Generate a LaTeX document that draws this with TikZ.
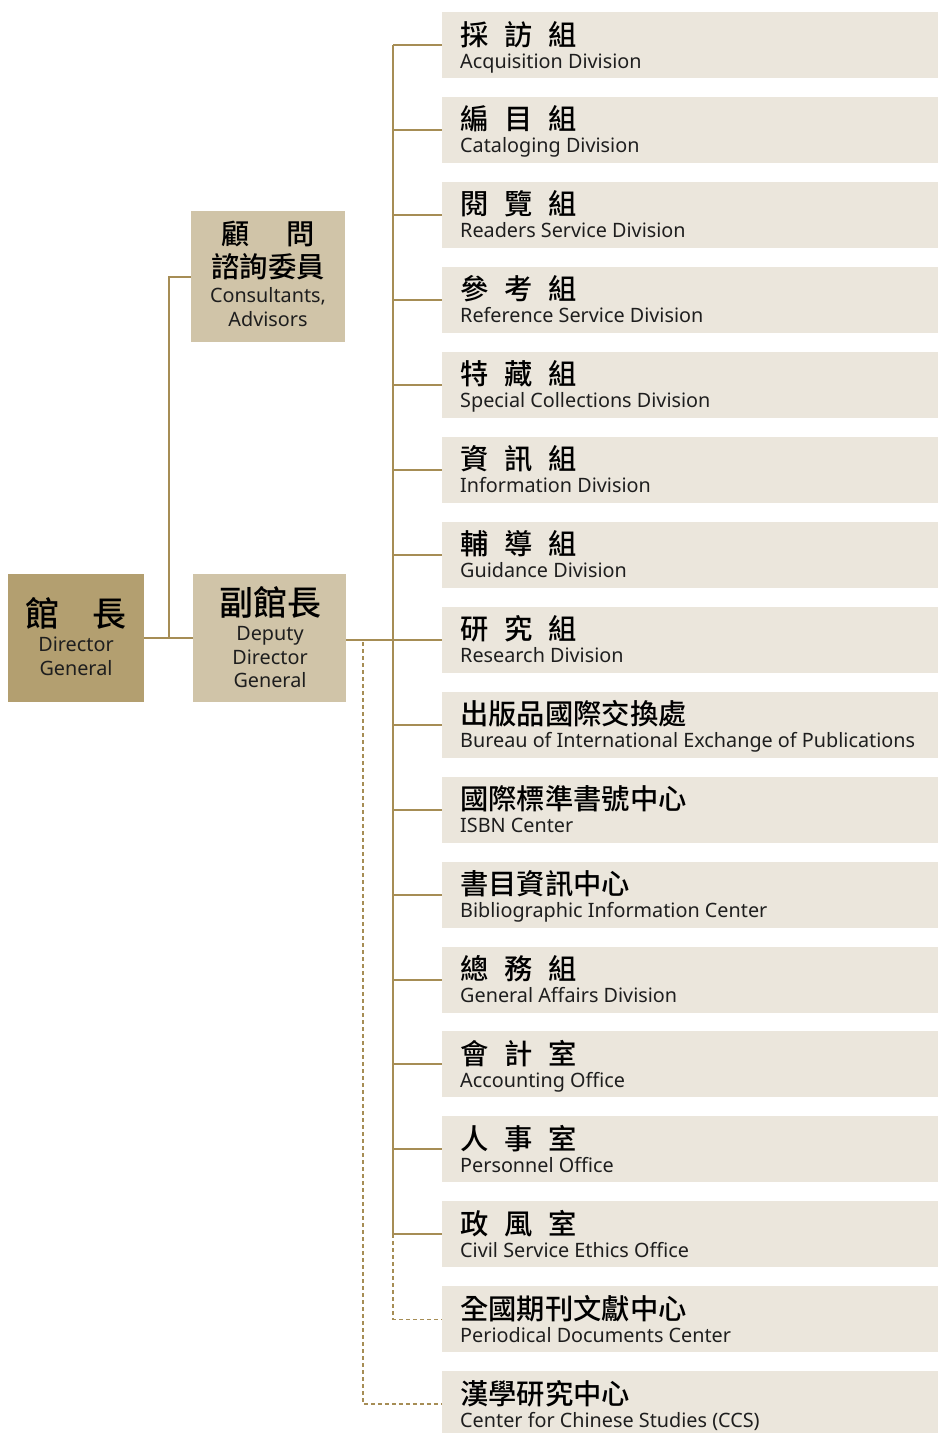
\documentclass[tikz,border=0pt]{standalone}
\usepackage{fontspec}
\setmainfont{Noto Sans}
\newfontfamily\cjk{Noto Sans CJK TC Medium}
\definecolor{rboxc}{HTML}{EBE6DC}
\definecolor{depc}{HTML}{D0C4A8}
\definecolor{dirc}{HTML}{B39F70}
\definecolor{linec}{HTML}{A68D55}
\definecolor{txtc}{HTML}{1E1E1E}
\newcommand{\gp}{\hspace{16pt}}
\begin{document}
\begin{tikzpicture}[x=1pt,y=-1pt,
  rbox/.style={fill=rboxc, minimum width=496pt, minimum height=66pt, inner sep=0pt, anchor=north west},
  zh/.style={font=\cjk\fontsize{28.3}{30}\selectfont, text=black, inner sep=0pt, anchor=base west},
  en/.style={font=\fontsize{19.8}{24}\selectfont, text=txtc, inner sep=0pt, anchor=base west},
  conn/.style={draw=linec, line width=2pt},
  dconn/.style={draw=linec, line width=1.6pt, dash pattern=on 4pt off 3pt}]
\useasboundingbox (0,0) rectangle (938,1433);
% left boxes
\node[fill=dirc, minimum width=136pt, minimum height=128pt, inner sep=0pt] (dir) at (76,638) {};
\node[fill=depc, minimum width=153pt, minimum height=128pt, inner sep=0pt] (dep) at (269.5,638) {};
\node[fill=depc, minimum width=154pt, minimum height=131pt, inner sep=0pt] (cons) at (268,276.5) {};
\node[font=\cjk\fontsize{34}{36}\selectfont, inner sep=0pt, anchor=base] (dirz) at (76,626) {館\hspace{33pt}長};
\node[en, anchor=base] (dire1) at (76,651) {Director};
\node[en, anchor=base] (dire2) at (76,675) {General};
\node[font=\cjk\fontsize{34}{36}\selectfont, inner sep=0pt, anchor=base] (depz) at (270,615) {副館長};
\node[en, anchor=base] (depe1) at (270,640) {Deputy};
\node[en, anchor=base] (depe2) at (270,664) {Director};
\node[en, anchor=base] (depe3) at (270,687) {General};
\node[zh, anchor=base] (consz1) at (268,244) {顧\hspace{36pt}問};
\node[zh, anchor=base] (consz2) at (268,277) {諮詢委員};
\node[en, anchor=base] (conse1) at (268,302) {Consultants,};
\node[en, anchor=base] (conse2) at (268,326) {Advisors};
% right boxes
\foreach \i/\zt/\et in {
 1/{採\gp 訪\gp 組}/{Acquisition Division},
 2/{編\gp 目\gp 組}/{Cataloging Division},
 3/{閱\gp 覽\gp 組}/{Readers Service Division},
 4/{參\gp 考\gp 組}/{Reference Service Division},
 5/{特\gp 藏\gp 組}/{Special Collections Division},
 6/{資\gp 訊\gp 組}/{Information Division},
 7/{輔\gp 導\gp 組}/{Guidance Division},
 8/{研\gp 究\gp 組}/{Research Division},
 9/{出版品國際交換處}/{Bureau of International Exchange of Publications},
 10/{國際標準書號中心}/{ISBN Center},
 11/{書目資訊中心}/{Bibliographic Information Center},
 12/{總\gp 務\gp 組}/{General Affairs Division},
 13/{會\gp 計\gp 室}/{Accounting Office},
 14/{人\gp 事\gp 室}/{Personnel Office},
 15/{政\gp 風\gp 室}/{Civil Service Ethics Office},
 16/{全國期刊文獻中心}/{Periodical Documents Center},
 17/{漢學研究中心}/{Center for Chinese Studies (CCS)}}{
  \pgfmathsetmacro{\tp}{12+84.94*(\i-1)}
  \node[rbox] (b\i) at (442,\tp) {};
  \node[zh] (z\i) at (460,\tp+33) {\zt};
  \node[en] (e\i) at (460,\tp+56) {\et};
}
% connectors
\coordinate (trunk) at (393,640);
\coordinate (br) at (169,638);
\coordinate (dash0) at (363,642);
\draw[conn] (dir.east) -- (dep.west);
\draw[conn] (cons.west) -| (br);
\draw[conn] (dep.east |- b8.west) -- (b8.west);
\draw[conn] (b1.west -| trunk) -- (b15.west -| trunk);
\foreach \i in {1,...,15}{
  \draw[conn] (b\i.west -| trunk) -- (b\i.west);
}
\draw[dconn] (b15.west -| trunk) -- (b16.west -| trunk) -- (b16.west);
\draw[dconn] (dash0) |- (b17.west);
\end{tikzpicture}
\end{document}
